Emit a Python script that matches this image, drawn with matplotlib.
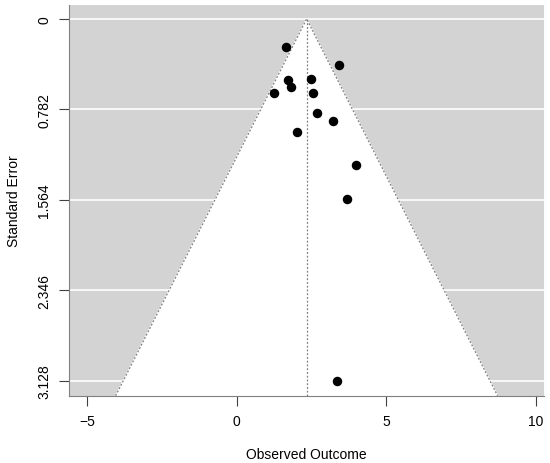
import numpy as np
from matplotlib import pyplot as plt

plt.rcParams['font.family'] = ['Liberation Sans', 'DejaVu Sans']

# observed outcomes and standard errors
yi = [1.66, 3.42, 1.72, 2.47, 1.83, 1.24, 2.55, 2.69, 3.23, 2.01, 3.98, 3.69, 3.34]
sei = [0.242, 0.401, 0.528, 0.516, 0.591, 0.637, 0.637, 0.810, 0.885, 0.978, 1.260, 1.554, 3.13]
est = 2.34
se_ticks = [0, 0.782, 1.564, 2.346, 3.128]
x_ticks = [-5, 0, 5, 10]

xlim = (-5.6, 10.28)
ylim = (3.259, -0.124)

fig = plt.figure(figsize=(5.5, 4.64), dpi=100)
ax = fig.add_axes([0.126, 0.145, 0.863, 0.843])
ax.set_xlim(xlim)
ax.set_ylim(ylim)
ax.set_facecolor('#d3d3d3')

# horizontal white grid lines
for s in se_ticks:
    ax.axhline(s, color='white', lw=1.2, zorder=1)

# funnel region
se_max = ylim[0]
px = [est - 1.96 * se_max, est, est + 1.96 * se_max]
py = [se_max, 0, se_max]
ax.fill(px, py, color='white', zorder=2)
ax.plot(px, py, color='#808080', ls=(0, (1.5, 1.5)), lw=0.9, zorder=3)
ax.plot([est, est], [0, se_max], color='#808080', ls=(0, (1.5, 1.5)), lw=0.9, zorder=3)

ax.scatter(yi, sei, s=34, color='black', zorder=4)

# axes styling like base R
for side in ['top', 'right']:
    ax.spines[side].set_visible(False)
for side in ['left', 'bottom']:
    ax.spines[side].set_color('#808080')
ax.set_xticks(x_ticks)
ax.set_xticklabels(['\u22125', '0', '5', '10'])
ax.set_yticks(se_ticks)
ax.set_yticklabels([str(s) for s in se_ticks], rotation=90, va='center')
ax.tick_params(axis='both', labelsize=10, length=7, color='#404040', pad=6)
ax.set_xlabel('Observed Outcome', fontsize=10, labelpad=14)
ax.set_ylabel('Standard Error', fontsize=10, labelpad=12)

plt.savefig('out.png', dpi=100)
plt.close()
